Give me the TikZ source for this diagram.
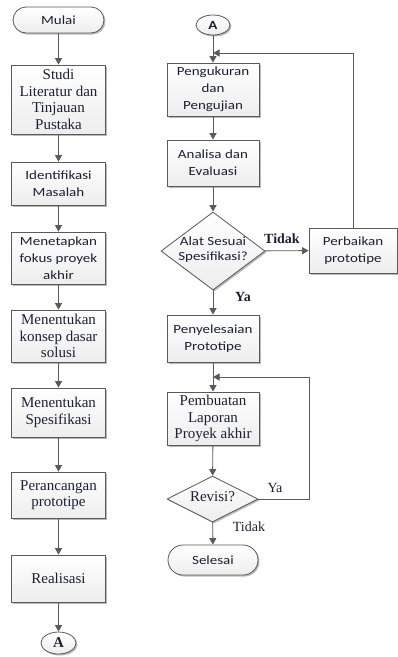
\documentclass[tikz,border=0pt]{standalone}
\usepackage{fontspec}
\setmainfont{Liberation Serif}
\newfontfamily\sansf[FakeStretch=1.2]{Carlito}
\usetikzlibrary{shapes.geometric,shapes.misc,arrows.meta,shadows}
\definecolor{txt}{RGB}{30,30,55}
\definecolor{ln}{RGB}{90,90,90}
\begin{document}
\begin{tikzpicture}[x=1pt,y=-1pt,
  base/.style={draw=ln, line width=0.8pt, top color=white, bottom color=gray!14,
    drop shadow={shadow xshift=1.5pt, shadow yshift=-1.5pt, fill=gray!55, opacity=1},
    align=center, text=txt, inner sep=1pt},
  box/.style={base, rectangle},
  term/.style={base, rounded rectangle},
  conn/.style={base, ellipse, inner sep=0pt},
  decision/.style={base, diamond, inner sep=0pt},
  sfont/.style={font=\sansf\fontsize{12.5}{17}\selectfont},
  rfont/.style={font=\fontsize{15}{16.5}\selectfont},
  lbl/.style={text=txt, font=\fontsize{14}{16}\selectfont, inner sep=0pt},
  arr/.style={draw=ln, line width=0.9pt, -{Triangle[length=6.5pt,width=7pt]}},
  lin/.style={draw=ln, line width=0.9pt}
]
\useasboundingbox (0,0) rectangle (398,657);

% left column
\node[term, sfont, minimum width=93pt, minimum height=26pt] (mulai) at (58.5,20) {Mulai};
\node[box, rfont, minimum width=94pt, minimum height=69pt] (studi) at (58.5,99.5) {Studi\\Literatur dan\\Tinjauan\\Pustaka};
\node[box, sfont, minimum width=94pt, minimum height=43pt] (ident) at (58.5,183.5) {Identifikasi\\Masalah};
\node[box, sfont, minimum width=94pt, minimum height=52pt] (tetap) at (58.5,258) {Menetapkan\\fokus proyek\\akhir};
\node[box, rfont, minimum width=94pt, minimum height=52pt] (konsep) at (58.5,336) {Menentukan\\konsep dasar\\solusi};
\node[box, rfont, minimum width=94pt, minimum height=49pt] (spes) at (58.5,412.5) {Menentukan\\Spesifikasi};
\node[box, rfont, minimum width=94pt, minimum height=46pt] (ranc) at (58.5,495) {Perancangan\\prototipe};
\node[box, rfont, minimum width=94pt, minimum height=47pt] (real) at (58.5,578.5) {Realisasi};
\node[conn, rfont, font=\bfseries\fontsize{15}{16.5}\selectfont, minimum width=35pt, minimum height=22pt] (a1) at (58.5,643) {A};

\draw[arr] (mulai) -- (studi);
\draw[arr] (studi) -- (ident);
\draw[arr] (ident) -- (tetap);
\draw[arr] (tetap) -- (konsep);
\draw[arr] (konsep) -- (spes);
\draw[arr] (spes) -- (ranc);
\draw[arr] (ranc) -- (real);
\draw[arr] (real) -- (a1);

% right column
\node[conn, font=\sansf\bfseries\fontsize{12.5}{17}\selectfont, minimum width=34pt, minimum height=20pt] (a2) at (213,25) {A};
\node[box, sfont, minimum width=92pt, minimum height=53pt] (ukur) at (213,89.5) {Pengukuran\\dan\\Pengujian};
\node[box, sfont, minimum width=92pt, minimum height=46pt] (anal) at (213,163) {Analisa dan\\Evaluasi};
\node[decision, sfont, minimum width=104pt, minimum height=78pt] (alat) at (213,251)
  {\raisebox{-3pt}{\smash{\makebox[0pt]{\begin{tabular}{@{}c@{}}Alat Sesuai\\[-2pt]Spesifikasi?\end{tabular}}}}};
\node[box, sfont, minimum width=88pt, minimum height=45pt] (perb) at (353,250.5) {Perbaikan\\prototipe};
\node[box, sfont, minimum width=92pt, minimum height=47pt] (selesaiP) at (213,338.5) {Penyelesaian\\Prototipe};
\node[box, rfont, minimum width=92pt, minimum height=53pt] (lapor) at (213,418.5) {Pembuatan\\Laporan\\Proyek akhir};
\node[decision, rfont, minimum width=91pt, minimum height=46pt] (rev) at (212.5,499)
  {\raisebox{-4pt}{\smash{\makebox[0pt]{Revisi?}}}};
\node[term, sfont, minimum width=92pt, minimum height=30pt] (sel) at (213,560) {Selesai};

\coordinate (j1) at (213,53);
\coordinate (j2) at (213,377);
\coordinate (c2) at (309,377);

\draw[arr] (a2) -- (ukur);
\draw[arr] (ukur) -- (anal);
\draw[arr] (anal) -- (alat);
\draw[arr] (alat) -- (perb);
\draw[arr] (perb.north) |- (j1);
\draw[arr] (alat) -- (selesaiP);
\draw[arr] (selesaiP) -- (lapor);
\draw[arr] (lapor) -- (rev);
\draw[arr] (rev.east) -| (c2) -- (j2);
\draw[arr] (rev) -- (sel);

\node[lbl, font=\bfseries\fontsize{14}{16}\selectfont] (t1) at (282,239) {Tidak};
\node[lbl, font=\bfseries\fontsize{14}{16}\selectfont] (y1) at (243,297) {Ya};
\node[lbl] (y2) at (275,488) {Ya};
\node[lbl] (t2) at (249,527) {Tidak};
\end{tikzpicture}
\end{document}
